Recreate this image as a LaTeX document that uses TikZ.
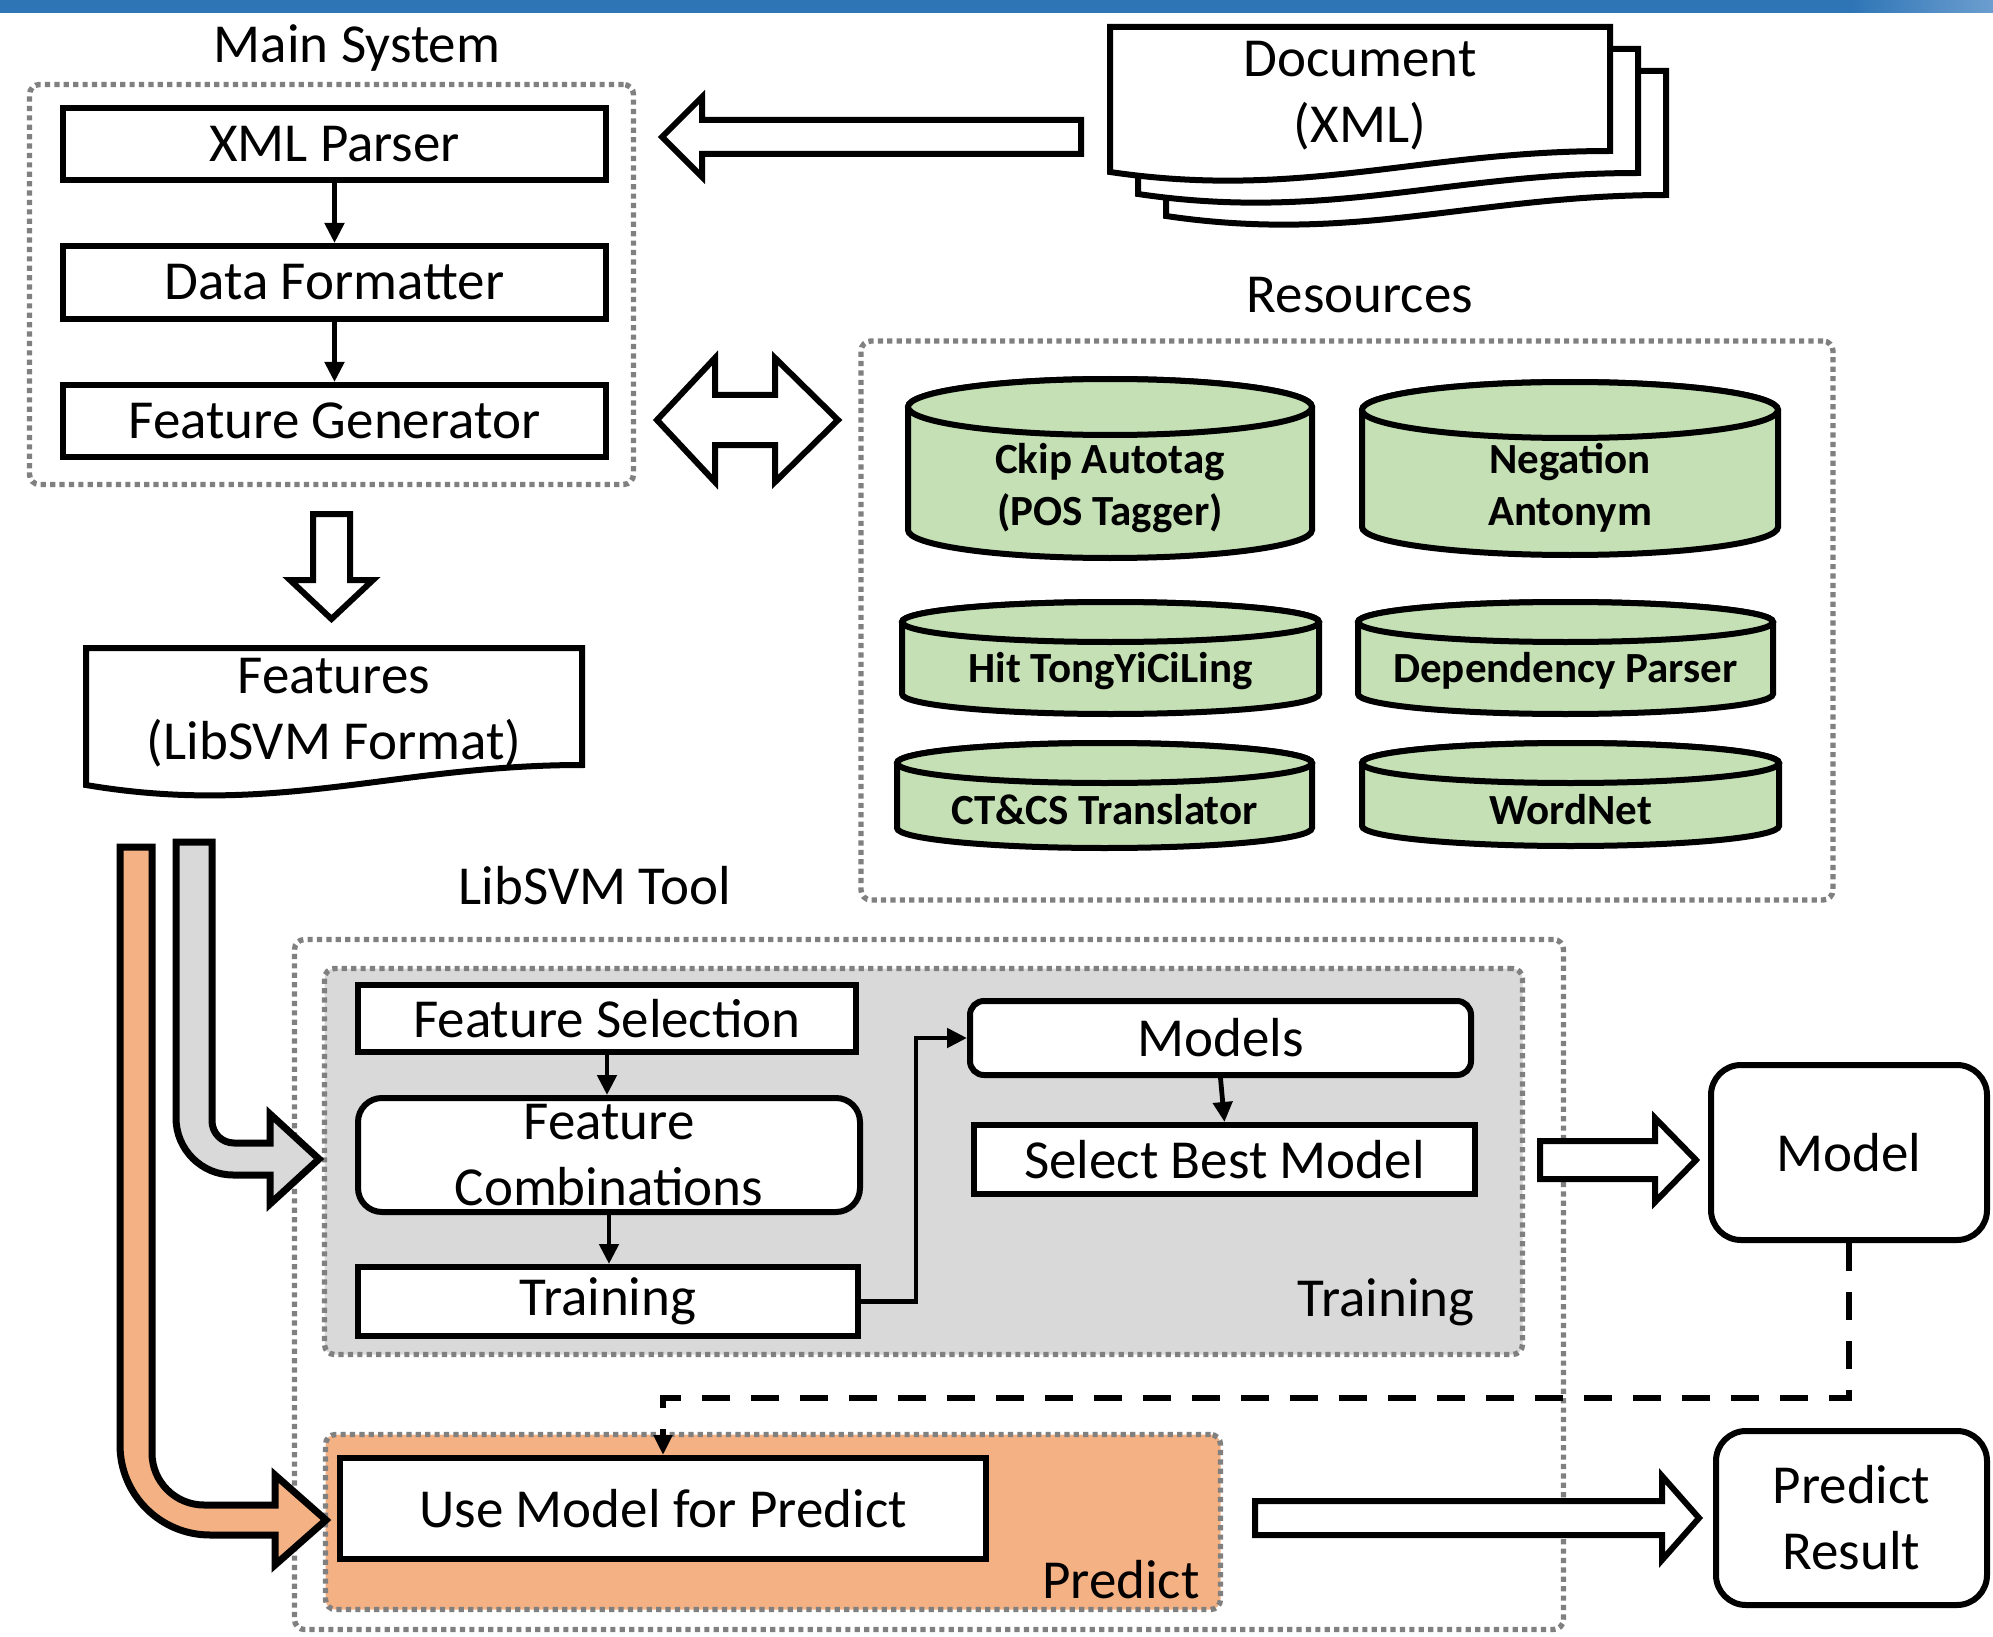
\documentclass[tikz,border=0pt]{standalone}
\usepackage{fontspec}
\setmainfont{Carlito}
\usetikzlibrary{fit,arrows.meta}

\definecolor{barblue}{RGB}{46,117,182}
\definecolor{barlight}{RGB}{108,158,207}
\definecolor{dotgrey}{RGB}{128,128,128}
\definecolor{resgreen}{RGB}{197,224,180}
\definecolor{predorange}{RGB}{244,177,131}
\definecolor{traingrey}{RGB}{217,217,217}

% resource database drawn as a cylinder: left, right, top, bottom, cap half-height
\newcommand\resdrum[5]{%
  \pgfmathsetmacro\drumrx{(#2-#1)/4}%
  \pgfmathsetmacro\drumry{#5/2}%
  \path[drumbody] (#1,#3+#5) -- (#1,#4-#5)
    arc[start angle=180,end angle=360,x radius=\drumrx pt,y radius=\drumry pt]
    -- (#2,#3+#5)
    arc[start angle=0,end angle=180,x radius=\drumrx pt,y radius=\drumry pt] -- cycle;
  \draw[drumbody] ({(#1+#2)/2},#3+#5) ellipse[x radius=\drumrx pt, y radius=\drumry pt];
}

\begin{document}
\begin{tikzpicture}[x=0.5pt,y=-0.5pt,
  txt/.style={font=\fontsize{27.5}{33}\selectfont, align=center, inner sep=0pt},
  boldtxt/.style={font=\bfseries\fontsize{21.5}{26}\selectfont, align=center, inner sep=0pt},
  plainbox/.style={txt, draw, line width=3pt, fill=white},
  groupframe/.style={draw=dotgrey, line width=2.7pt, dash pattern=on 2.6pt off 2.1pt,
                     rounded corners=5pt, inner sep=0pt},
  link/.style={line width=2.4pt, -{Triangle[length=10pt,width=9.5pt]}},
  modellink/.style={line width=3pt, dash pattern=on 14pt off 10.5pt,
                    -{Triangle[length=10pt,width=9pt]}},
  hollow/.style={draw, fill=white, line width=3pt, line join=miter},
  docshape/.style={draw, fill=white, line width=3pt},
  drumbody/.style={draw, line width=3pt, fill=resgreen},
  pipe/.style={draw, line width=3.5pt, line join=miter}
]
\useasboundingbox (0,0) rectangle (1993,1637);

% title bar
\fill[barblue] (0,0) rectangle (1851,13);
\shade[left color=barblue, right color=barlight] (1850,0) rectangle (1993,13);

% main system
\node[txt] (mainlbl) at (357,48) {Main System};
\node[groupframe, fit={(29.5,84.5)(633.5,484.5)}] (mainsys) {};
\node[plainbox, minimum width=271.5pt, minimum height=36pt] (xml) at (334.5,144) {XML Parser};
\node[plainbox, minimum width=271.5pt, minimum height=36.5pt] (fmt) at (334.5,282.5) {Data Formatter};
\node[plainbox, minimum width=271.5pt, minimum height=36pt] (gen) at (334.5,421) {Feature Generator};
\draw[link] (xml.south) -- (fmt.north);
\draw[link] (fmt.south) -- (gen.north);

% input documents
\foreach \dx/\dy in {56/44, 28/22, 0/0}
  \path[docshape] ({1110+\dx},{27+\dy}) -- ({1610+\dx},{27+\dy}) -- ({1610+\dx},{151+\dy})
    .. controls ({1420+\dx},{151+\dy}) and ({1300+\dx},{200+\dy}) .. ({1110+\dx},{172+\dy}) -- cycle;
\node[txt] (doc) at (1360,96) {Document\\(XML)};
\path[hollow] (1081,120) -- (702,120) -- (702,97) -- (662,137) -- (702,177)
  -- (702,154) -- (1081,154) -- cycle;

% resources
\node[txt] (reslbl) at (1360,295) {Resources};
\node[groupframe, fit={(861,341)(1833,900)}] (res) {};
\resdrum{908}{1312}{379}{558}{28}
\resdrum{1362}{1778}{382}{555}{28}
\resdrum{902}{1319}{602}{714}{20}
\resdrum{1358}{1773}{602}{714}{20}
\resdrum{897}{1312}{743}{848}{20}
\resdrum{1362}{1779}{743}{846}{20}
\node[boldtxt] (ckip) at (1110,488) {Ckip Autotag\\(POS Tagger)};
\node[boldtxt] (neg) at (1570,488) {Negation\\Antonym};
\node[boldtxt] (hit) at (1110.5,671) {Hit TongYiCiLing};
\node[boldtxt] (dep) at (1565.5,671) {Dependency Parser};
\node[boldtxt] (trans) at (1104.5,810) {CT\&CS Translator};
\node[boldtxt] (wordnet) at (1570.5,810) {WordNet};
\path[hollow] (657,420) -- (715,358) -- (715,395) -- (775,395) -- (775,358) -- (838,420)
  -- (775,482) -- (775,445) -- (715,445) -- (715,482) -- cycle;

% generated features
\path[hollow] (313,514) -- (350,514) -- (350,580) -- (373,580) -- (331.5,619)
  -- (290,580) -- (313,580) -- cycle;
\path[docshape] (86,648) -- (582,648) -- (582,765)
  .. controls (395,765) and (275,817) .. (86,785) -- cycle;
\node[txt] (feat) at (334,713) {Features\\(LibSVM Format)};

% LibSVM tool
\node[txt] (libsvmlbl) at (595,886) {LibSVM Tool};
\node[groupframe, fit={(294.5,939.5)(1563.5,1629.5)}] (libsvm) {};
\node[groupframe, fill=traingrey, fit={(324.5,968.5)(1522.5,1354.5)}] (trainzone) {};
\node[plainbox, minimum width=249pt, minimum height=33.5pt] (fsel) at (607,1018.5) {Feature Selection};
\node[plainbox, rounded corners=12pt, minimum width=251pt, minimum height=57pt] (fcomb) at (609,1155) {Feature\\Combinations};
\node[plainbox, minimum width=250pt, minimum height=34.5pt] (trn) at (608,1301.5) {Training};
\node[plainbox, rounded corners=7pt, minimum width=250.5pt, minimum height=37pt] (models) at (1220.5,1038) {Models};
\node[plainbox, minimum width=250.5pt, minimum height=34.5pt] (best) at (1224.5,1159.5) {Select Best Model};
\node[txt, anchor=east] (trainlbl) at (1475,1302) {Training};
\draw[link] (fsel.south) -- (fsel.south |- fcomb.north);
\draw[link] (fcomb.south) -- (fcomb.south |- trn.north);
\draw[link] (models.south) -- (best.north);
\draw[link] (trn.east) -- ++(55,0) |- (models.west);

\node[groupframe, fill=predorange, fit={(325.5,1434.5)(1220.5,1609.5)}] (predzone) {};
\node[plainbox, minimum width=323pt, minimum height=50.5pt] (usemodel) at (663,1508.5) {Use Model for Predict};
\node[txt, anchor=east] (predlbl) at (1200,1580) {Predict};

% outputs
\node[plainbox, rounded corners=15pt, minimum width=138pt, minimum height=87.5pt] (model) at (1849,1152.5) {Model};
\node[plainbox, rounded corners=15pt, minimum width=135.5pt, minimum height=87pt] (result) at (1851.5,1518) {Predict\\Result};
\path[hollow] (1540,1141) -- (1655,1141) -- (1655,1118) -- (1696,1160) -- (1655,1202)
  -- (1655,1179) -- (1540,1179) -- cycle;
\path[hollow] (1255,1501) -- (1662,1501) -- (1662,1476) -- (1699,1518) -- (1662,1560)
  -- (1662,1535) -- (1255,1535) -- cycle;
\draw[modellink] (model.south) -- ++(0,155) -| (usemodel.north);

% feature flows into training and prediction
\path[pipe, fill=traingrey] (176,842) -- (212,842) -- (212,1121)
  arc[start angle=180,end angle=270,radius=11pt] -- (270,1143) -- (270,1114) -- (319,1159)
  -- (270,1204) -- (270,1175) -- (233,1175)
  arc[start angle=270,end angle=180,radius=28.5pt] -- cycle;
\path[pipe, fill=predorange] (120,847) -- (152,847) -- (152,1453)
  arc[start angle=180,end angle=270,radius=26pt] -- (275,1505) -- (275,1475) -- (326,1520)
  -- (275,1565) -- (275,1535) -- (210,1535)
  arc[start angle=270,end angle=180,radius=45pt] -- cycle;
\end{tikzpicture}
\end{document}
